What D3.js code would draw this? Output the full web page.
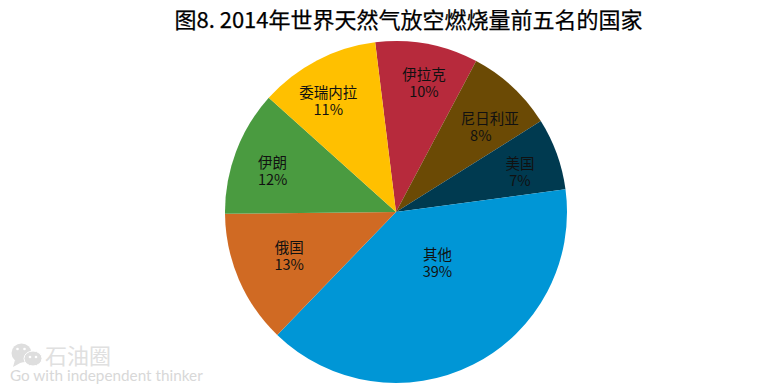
<!DOCTYPE html>
<html><head><meta charset="utf-8">
<script src="https://cdn.jsdelivr.net/npm/d3@7"></script>
<style>html,body{margin:0;background:#fff}svg{display:block}text{font-family:"Noto Sans CJK SC","Noto Sans",sans-serif}</style>
</head><body><svg id="c" width="775" height="388"></svg>
<script>
const titleText = "图8. 2014年世界天然气放空燃烧量前五名的国家";
const categories = ["伊拉克","尼日利亚","美国","其他","俄国","伊朗","委瑞内拉"];
const values = [9.7,8.3,6.8,39.3,12.6,11.8,11.4];
const percentLabels = ["10%","8%","7%","39%","13%","12%","11%"];
const colors = ["#b72a3c","#6b4a05","#003a50","#0096d6","#d06a23","#4a9b40","#ffc000"];
const labelRadii = [0.8,0.72,0.74,0.42,0.68,0.74,0.73];
const labelShift = [[3,6],[10,5],[5,3],[9,-13],[0,-2],[-5,4],[-10,0]];
const pctShift = [0,-9,0,0,0,0,0];

const svg = d3.select("#c");
const cx=396, cy=212, R=171;
svg.append("text").attr("x",408.5).attr("y",28).attr("text-anchor","middle")
  .attr("font-size",22).attr("fill","#000").attr("stroke","#000").attr("stroke-width",0.25).text(titleText);

const startAngle=-7*Math.PI/180;
const pie=d3.pie().sort(null).startAngle(startAngle).endAngle(startAngle+2*Math.PI);
const arcs=pie(values);
const arc=d3.arc().innerRadius(0).outerRadius(R);
const g=svg.append("g").attr("transform",`translate(${cx},${cy})`);
g.selectAll("path").data(arcs).join("path").attr("d",arc).attr("fill",(d,i)=>colors[i]);
const labels=g.selectAll("text.l").data(arcs).join("text").attr("class","l")
 .attr("transform",(d,i)=>{const a=(d.startAngle+d.endAngle)/2,r=labelRadii[i]*R;
   return `translate(${Math.sin(a)*r+labelShift[i][0]},${-Math.cos(a)*r+labelShift[i][1]})`;})
 .attr("text-anchor","middle").attr("font-size",14.5).attr("fill","#111");
labels.append("tspan").attr("x",0).attr("y",-3).text((d,i)=>categories[i]);
labels.append("tspan").attr("x",(d,i)=>pctShift[i]).attr("y",14).text((d,i)=>percentLabels[i]);

// watermark
const wm=svg.append("g");
wm.append("ellipse").attr("cx",21.5).attr("cy",353).attr("rx",10).attr("ry",9.5).attr("fill","#dedede");
wm.append("path").attr("d",d3.line()([[15,360],[13,367],[22,362]])).attr("fill","#dedede");
wm.append("ellipse").attr("cx",33).attr("cy",358.5).attr("rx",9).attr("ry",7.5).attr("fill","#dedede").attr("stroke","#fff").attr("stroke-width",1);
[[17.5,349],[24.5,349],[30,357],[36,357]].forEach(p=>wm.append("circle").attr("cx",p[0]).attr("cy",p[1]).attr("r",1.3).attr("fill","#fff"));
svg.append("text").attr("x",45).attr("y",364).attr("font-size",22).attr("fill","#e0e0e0").text("石油圈");
svg.append("text").attr("x",10).attr("y",381).attr("font-size",15.3).attr("fill","#d8d8d8").style("font-family","Lato,'Open Sans',sans-serif").text("Go with independent thinker");
</script></body></html>
